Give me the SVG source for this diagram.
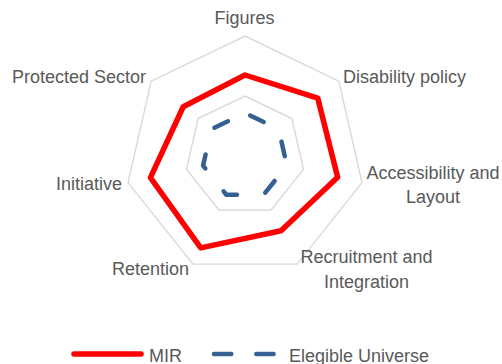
<svg xmlns="http://www.w3.org/2000/svg" width="502" height="364" viewBox="0 0 502 364">
<style>
.grid{fill:none;stroke:#D9D9D9;stroke-width:1.4}
.lbl{font-family:"Liberation Sans",Arial,sans-serif;font-size:18px;fill:#595959}
.mir{fill:none;stroke:#FF0000;stroke-width:5.5;stroke-linejoin:round;stroke-linecap:round}
.eu{fill:none;stroke:#376092;stroke-width:4.5;stroke-linejoin:round;stroke-linecap:round}
</style>
<rect width="502" height="364" fill="#FFFFFF"/>
<g id="grid">
<polygon class="grid" points="245,36 338.82,81.18 361.99,182.7 297.07,264.12 192.93,264.12 128.01,182.7 151.18,81.18"/>
<polygon class="grid" points="245,96 291.91,118.59 303.5,169.35 271.03,210.06 218.97,210.06 186.5,169.35 198.09,118.59"/>
</g>
<g id="labels">
<text id="lbl-figures" class="lbl" x="244.5" y="24" text-anchor="middle">Figures</text>
<text id="lbl-disability" class="lbl" x="343" y="83">Disability policy</text>
<text id="lbl-access" class="lbl" x="433" y="179" text-anchor="middle">Accessibility and<tspan x="433" y="203">Layout</tspan></text>
<text id="lbl-recruit" class="lbl" x="366.5" y="263" text-anchor="middle">Recruitment and<tspan x="366.5" y="287.5">Integration</tspan></text>
<text id="lbl-retention" class="lbl" x="189" y="275" text-anchor="end">Retention</text>
<text id="lbl-initiative" class="lbl" x="122" y="190" text-anchor="end">Initiative</text>
<text id="lbl-protected" class="lbl" x="146" y="83" text-anchor="end">Protected Sector</text>
</g>
<g id="series">
<polygon id="mir" class="mir" points="245,75 317.71,98.02 337.62,177.14 281.01,230.78 200.74,247.9 150.43,177.58 183.24,106.74"/>
<path id="eu" class="eu" stroke-dasharray="15 29.3" stroke-dashoffset="-5.75" d="M245,113 L278.62,129.19 L286.92,165.57 L263.66,194.74 L226.34,194.74 L203.08,165.57 L211.38,129.19 Z"/>
</g>
<g id="legend">
<line class="mir" x1="74" y1="354" x2="141" y2="354" stroke-width="5"/>
<text class="lbl" x="149" y="361.5">MIR</text>
<line class="eu" x1="214" y1="354" x2="274" y2="354" stroke-dasharray="17.3 25"/>
<text class="lbl" x="289" y="361.5">Elegible Universe</text>
</g>
</svg>
